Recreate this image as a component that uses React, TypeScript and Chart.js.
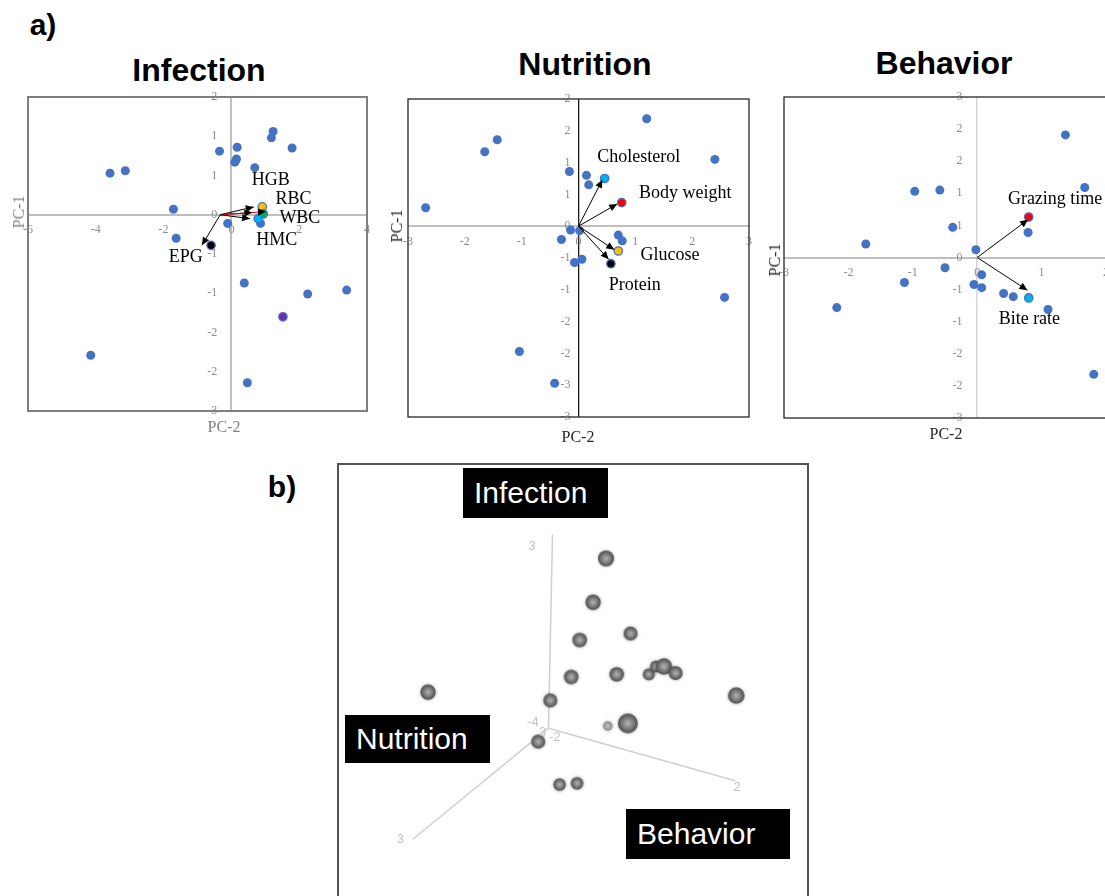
import React, { useEffect, useRef } from "react";
import { Chart, registerables } from "chart.js";

Chart.register(...registerables);

const SERIF = '"Liberation Serif", "Times New Roman", serif';
const SANS = '"Liberation Sans", Arial, sans-serif';
const BLUE = "#4472C4";

// ---------------- a) Infection PCA ----------------
const infectionPC2 = [1.23, 1.18, 1.79, -0.35, 0.17, 0.15, 0.1, 0.69, -3.58, -3.13, -1.71, -0.11, -1.63, 0.38, 2.25, 3.4, -4.15, 0.47, 0.86];
const infectionPC1 = [1.06, 0.98, 0.85, 0.81, 0.86, 0.71, 0.67, 0.6, 0.53, 0.56, 0.07, -0.11, -0.3, -0.87, -1.01, -0.96, -1.79, -2.14, -0.11];
const infectionHighlightPC2 = [0.91, 0.94, 0.79, -0.6, 1.52];
const infectionHighlightPC1 = [0.1, 0.01, -0.05, -0.39, -1.3];
const infectionHighlightColors = ["#FFC000", "#00B050", "#00B0F0", "#000000", "#7030A0"];
const infectionVariables = ["HGB", "RBC", "WBC", "HMC", "EPG"];
const infectionLoadingPC2 = [0.66, 1.02, 0.62, 0.55, -0.87];
const infectionLoadingPC1 = [0.1, 0.04, 0.03, -0.05, -0.39];
const infectionArrowColors = ["#000000", "#FF0000", "#000000", "#000000", "#000000"];
const infectionLabelPC2 = [1.16, 1.83, 2.02, 1.34, -1.35];
const infectionLabelPC1 = [0.44, 0.2, -0.05, -0.32, -0.54];

// ---------------- a) Nutrition PCA ----------------
const nutritionPC2 = [1.2, -1.43, -1.65, 2.4, -0.16, 0.14, 0.18, -2.69, -0.14, 0.02, -0.3, 0.7, 0.77, 0.06, -0.07, 2.57, -1.04, -0.42];
const nutritionPC1 = [1.69, 1.36, 1.17, 1.05, 0.86, 0.8, 0.65, 0.29, -0.06, -0.07, -0.21, -0.14, -0.23, -0.52, -0.57, -1.12, -1.97, -2.47];
const nutritionHighlightPC2 = [0.46, 0.76, 0.7, 0.57];
const nutritionHighlightPC1 = [0.75, 0.37, -0.39, -0.59];
const nutritionHighlightColors = ["#00B0F0", "#FF0000", "#FFC000", "#000000"];
const nutritionVariables = ["Cholesterol", "Body weight", "Glucose", "Protein"];
const nutritionLoadingPC2 = [0.42, 0.68, 0.63, 0.53];
const nutritionLoadingPC1 = [0.73, 0.35, -0.37, -0.52];
const nutritionArrowColors = ["#000000", "#000000", "#000000", "#000000"];
const nutritionLabelPC2 = [1.06, 1.88, 1.61, 0.99];
const nutritionLabelPC1 = [1.09, 0.51, -0.45, -0.93];

// ---------------- a) Behavior PCA ----------------
const behaviorPC2 = [1.37, 1.67, -0.97, -0.58, -0.38, 0.79, -1.73, -0.02, -0.5, 0.07, -1.13, -0.05, 0.07, 0.41, 0.56, 1.1, -2.18, 1.81];
const behaviorPC1 = [1.91, 1.09, 1.03, 1.05, 0.47, 0.39, 0.21, 0.12, -0.16, -0.27, -0.39, -0.42, -0.47, -0.56, -0.61, -0.81, -0.78, -1.82];
const behaviorHighlightPC2 = [0.8, 0.8];
const behaviorHighlightPC1 = [0.63, -0.63];
const behaviorHighlightColors = ["#FF0000", "#00B0F0"];
const behaviorVariables = ["Grazing time", "Bite rate"];
const behaviorLoadingPC2 = [0.79, 0.78];
const behaviorLoadingPC1 = [0.59, -0.51];
const behaviorArrowColors = ["#000000", "#000000"];
const behaviorLabelPC2 = [1.21, 0.81];
const behaviorLabelPC1 = [0.91, -0.96];

// ---------------- b) 3D projection (projected plane coordinates, 0-100) ----------------
const spherePlaneX = [57.4, 54.5, 51.5, 62.9, 49.6, 59.8, 67.0, 68.6, 70.4, 73.0, 86.6, 17.5, 44.9, 62.3, 57.8, 42.2, 47.0, 50.9];
const spherePlaneY = [81.0, 70.9, 62.2, 63.7, 53.7, 54.3, 54.3, 56.1, 56.1, 54.6, 49.4, 50.2, 48.3, 43.0, 42.4, 38.8, 28.9, 29.2];
const sphereDepth = [0.33, 0.23, 0.1, 0.0, 0.1, 0.1, -0.33, -0.33, 0.43, 0.0, 0.43, 0.23, 0.0, 1.0, -0.77, 0.0, -0.23, -0.23];
const axisOriginPlane = [44.5, 41.9];
const axisEndNames = ["Infection", "Behavior", "Nutrition"];
const axisEndPlaneX = [45.4, 86.4, 14.1];
const axisEndPlaneY = [86.5, 29.8, 16.3];
const axisTickText = ["3", "2", "3", "-4", "3", "-2"];
const axisTickPlaneX = [40.8, 86.8, 11.3, 41.0, 43.2, 45.9];
const axisTickPlaneY = [83.8, 28.3, 16.2, 43.2, 41.0, 39.8];

type PcaSpec = {
  pc2: number[]; pc1: number[];
  hiPc2: number[]; hiPc1: number[]; hiColors: string[];
  names: string[]; loadPc2: number[]; loadPc1: number[]; arrowColors: string[];
  labelPc2: number[]; labelPc1: number[];
  origin: [number, number];
  xMin: number; xMax: number; xStep: number;
  yMin: number; yMax: number; yStep: number;
  yAxisAt: number;
  zeroXColor: string; zeroXWidth: number;
  zeroYColor: string; zeroYWidth: number;
  frameColor: string; frameWidth: number;
  padding: { left: number; right: number; top: number; bottom: number };
};

const roundLabel = (v: number) => {
  const r = Math.sign(v) * Math.round(Math.abs(v));
  return r === 0 ? "0" : String(r);
};

const xy = (xs: number[], ys: number[]) => xs.map((x, i) => ({ x, y: ys[i] }));

function buildPcaConfig(s: PcaSpec): any {
  const decor = {
    id: "pcaDecor",
    afterDatasetsDraw(chart: any) {
      const { ctx, chartArea: a, scales } = chart;
      const sx = scales.x;
      const sy = scales.y;
      ctx.save();
      const x0 = sx.getPixelForValue(s.origin[0]);
      const y0 = sy.getPixelForValue(s.origin[1]);
      s.names.forEach((_n, i) => {
        const x1 = sx.getPixelForValue(s.loadPc2[i]);
        const y1 = sy.getPixelForValue(s.loadPc1[i]);
        const ang = Math.atan2(y1 - y0, x1 - x0);
        const L = 8;
        const W = 3.6;
        const c = Math.cos(ang);
        const sn = Math.sin(ang);
        ctx.beginPath();
        ctx.moveTo(x1, y1);
        ctx.lineTo(x1 - L * c + W * sn, y1 - L * sn - W * c);
        ctx.lineTo(x1 - L * c - W * sn, y1 - L * sn + W * c);
        ctx.closePath();
        ctx.fillStyle = "#000";
        ctx.fill();
      });
      ctx.font = `18px ${SERIF}`;
      ctx.fillStyle = "#000";
      ctx.textAlign = "center";
      ctx.textBaseline = "middle";
      s.names.forEach((n, i) => {
        ctx.fillText(n, sx.getPixelForValue(s.labelPc2[i]), sy.getPixelForValue(s.labelPc1[i]));
      });
      ctx.strokeStyle = s.frameColor;
      ctx.lineWidth = s.frameWidth;
      ctx.strokeRect(a.left, a.top, a.right - a.left, a.bottom - a.top);
      ctx.restore();
    },
  };

  const arrowSets = s.names.map((n, i) => ({
    label: n,
    data: [
      { x: s.origin[0], y: s.origin[1] },
      { x: s.loadPc2[i], y: s.loadPc1[i] },
    ],
    showLine: true,
    borderColor: s.arrowColors[i],
    borderWidth: 1,
    pointRadius: 0,
    order: 1,
  }));

  const tickFont = { family: SERIF, size: 12 };
  return {
    type: "scatter",
    data: {
      datasets: [
        {
          label: "highlight",
          data: xy(s.hiPc2, s.hiPc1),
          backgroundColor: s.hiColors,
          borderColor: BLUE,
          borderWidth: 1.3,
          pointRadius: 4.2,
          order: 0,
        },
        ...arrowSets,
        {
          label: "scores",
          data: xy(s.pc2, s.pc1),
          backgroundColor: BLUE,
          borderWidth: 0,
          pointRadius: 4.5,
          order: 2,
        },
      ],
    },
    options: {
      responsive: false,
      animation: false,
      layout: { padding: s.padding },
      plugins: { legend: { display: false }, tooltip: { enabled: false } },
      scales: {
        x: {
          type: "linear",
          position: { y: 0 },
          min: s.xMin,
          max: s.xMax,
          border: { display: false },
          grid: {
            drawTicks: false,
            color: (c: any) => (c.tick && c.tick.value === 0 ? s.zeroXColor : "rgba(0,0,0,0)"),
            lineWidth: (c: any) => (c.tick && c.tick.value === 0 ? s.zeroXWidth : 0),
          },
          ticks: {
            stepSize: s.xStep,
            autoSkip: false,
            maxRotation: 0,
            padding: 8,
            color: "#8c8c8c",
            font: tickFont,
            callback: (v: any) => roundLabel(Number(v)),
          },
        },
        y: {
          type: "linear",
          position: { x: s.yAxisAt },
          min: s.yMin,
          max: s.yMax,
          border: { display: false },
          grid: {
            drawTicks: false,
            color: (c: any) => (c.tick && c.tick.value === 0 ? s.zeroYColor : "rgba(0,0,0,0)"),
            lineWidth: (c: any) => (c.tick && c.tick.value === 0 ? s.zeroYWidth : 0),
          },
          ticks: {
            stepSize: s.yStep,
            autoSkip: false,
            color: "#8c8c8c",
            font: tickFont,
            callback: (v: any) => roundLabel(Number(v)),
          },
        },
      },
    },
    plugins: [decor],
  };
}

const infectionSpec: PcaSpec = {
  pc2: infectionPC2, pc1: infectionPC1,
  hiPc2: infectionHighlightPC2, hiPc1: infectionHighlightPC1, hiColors: infectionHighlightColors,
  names: infectionVariables, loadPc2: infectionLoadingPC2, loadPc1: infectionLoadingPC1, arrowColors: infectionArrowColors,
  labelPc2: infectionLabelPC2, labelPc1: infectionLabelPC1,
  origin: [-0.33, 0],
  xMin: -6, xMax: 4, xStep: 2, yMin: -2.5, yMax: 1.5, yStep: 0.5, yAxisAt: -0.42,
  zeroXColor: "#bfbfbf", zeroXWidth: 2, zeroYColor: "#bfbfbf", zeroYWidth: 2,
  frameColor: "#7f7f7f", frameWidth: 2,
  padding: { left: 28, right: 13, top: 12, bottom: 29 },
};

const nutritionSpec: PcaSpec = {
  pc2: nutritionPC2, pc1: nutritionPC1,
  hiPc2: nutritionHighlightPC2, hiPc1: nutritionHighlightPC1, hiColors: nutritionHighlightColors,
  names: nutritionVariables, loadPc2: nutritionLoadingPC2, loadPc1: nutritionLoadingPC1, arrowColors: nutritionArrowColors,
  labelPc2: nutritionLabelPC2, labelPc1: nutritionLabelPC1,
  origin: [0, 0],
  xMin: -3, xMax: 3, xStep: 1, yMin: -3, yMax: 2, yStep: 0.5, yAxisAt: -0.14,
  zeroXColor: "#1a1a1a", zeroXWidth: 1.3, zeroYColor: "#bfbfbf", zeroYWidth: 2,
  frameColor: "#262626", frameWidth: 1.3,
  padding: { left: 13, right: 16, top: 11, bottom: 16 },
};

const behaviorSpec: PcaSpec = {
  pc2: behaviorPC2, pc1: behaviorPC1,
  hiPc2: behaviorHighlightPC2, hiPc1: behaviorHighlightPC1, hiColors: behaviorHighlightColors,
  names: behaviorVariables, loadPc2: behaviorLoadingPC2, loadPc1: behaviorLoadingPC1, arrowColors: behaviorArrowColors,
  labelPc2: behaviorLabelPC2, labelPc1: behaviorLabelPC1,
  origin: [0, 0],
  xMin: -3, xMax: 2, xStep: 1, yMin: -2.5, yMax: 2.5, yStep: 0.5, yAxisAt: -0.23,
  zeroXColor: "#d4d4d4", zeroXWidth: 1.5, zeroYColor: "#bfbfbf", zeroYWidth: 2,
  frameColor: "#262626", frameWidth: 1.3,
  padding: { left: 14, right: 14, top: 12, bottom: 17 },
};

function PcaChart(props: { spec: PcaSpec; left: number; top: number; width: number; height: number }) {
  const ref = useRef<HTMLCanvasElement | null>(null);
  useEffect(() => {
    const chart = new Chart(ref.current as HTMLCanvasElement, buildPcaConfig(props.spec));
    return () => chart.destroy();
  }, []);
  return (
    <canvas
      ref={ref}
      width={props.width}
      height={props.height}
      style={{ position: "absolute", left: props.left, top: props.top, width: props.width, height: props.height }}
    />
  );
}

function sphereImage(r: number, depth: number): HTMLCanvasElement {
  const pad = 3;
  const size = Math.ceil((r + pad) * 2);
  const c = document.createElement("canvas");
  c.width = size;
  c.height = size;
  const g = c.getContext("2d") as CanvasRenderingContext2D;
  const m = size / 2;
  const halo = g.createRadialGradient(m, m, r * 0.8, m, m, r + pad);
  halo.addColorStop(0, "rgba(0,0,0,0.16)");
  halo.addColorStop(1, "rgba(0,0,0,0)");
  g.fillStyle = halo;
  g.fillRect(0, 0, size, size);
  const far = depth < -0.5;
  const grad = g.createRadialGradient(m, m, 0, m, m, r);
  grad.addColorStop(0, far ? "#c4c4c4" : "#b4b4b4");
  grad.addColorStop(0.45, far ? "#a8a8a8" : "#878787");
  grad.addColorStop(1, far ? "#8c8c8c" : "#4e4e4e");
  g.beginPath();
  g.arc(m, m, r, 0, Math.PI * 2);
  g.fillStyle = grad;
  g.fill();
  return c;
}

function ThreeDChart() {
  const ref = useRef<HTMLCanvasElement | null>(null);
  useEffect(() => {
    const radii = sphereDepth.map((d) => 7 + 3 * d);
    const images = radii.map((r, i) => sphereImage(r, sphereDepth[i]));
    const labels = {
      id: "axisText",
      afterDatasetsDraw(chart: any) {
        const { ctx, scales } = chart;
        ctx.save();
        ctx.font = `13px ${SANS}`;
        ctx.fillStyle = "#c2c2c2";
        ctx.textAlign = "center";
        ctx.textBaseline = "middle";
        axisTickText.forEach((t, i) => {
          ctx.fillText(t, scales.x.getPixelForValue(axisTickPlaneX[i]), scales.y.getPixelForValue(axisTickPlaneY[i]));
        });
        ctx.restore();
      },
    };
    const axisSets = axisEndNames.map((n, i) => ({
      label: n,
      data: [
        { x: axisOriginPlane[0], y: axisOriginPlane[1] },
        { x: axisEndPlaneX[i], y: axisEndPlaneY[i] },
      ],
      showLine: true,
      borderColor: "#cfcfcf",
      borderWidth: 1.5,
      pointRadius: 0,
      order: 1,
    }));
    const chart = new Chart(ref.current as HTMLCanvasElement, {
      type: "scatter",
      data: {
        datasets: [
          {
            label: "animals",
            data: xy(spherePlaneX, spherePlaneY),
            pointRadius: (c: any) => radii[c.dataIndex] ?? 7,
            pointStyle: (c: any) => images[c.dataIndex] ?? "circle",
            order: 0,
          } as any,
          ...axisSets,
        ],
      },
      options: {
        responsive: false,
        animation: false,
        layout: { padding: 0 },
        plugins: { legend: { display: false }, tooltip: { enabled: false } },
        scales: {
          x: { type: "linear", display: false, min: 0, max: 100 },
          y: { type: "linear", display: false, min: 0, max: 100 },
        },
      },
      plugins: [labels],
    } as any);
    return () => chart.destroy();
  }, []);
  return (
    <canvas
      ref={ref}
      width={468}
      height={456}
      style={{ position: "absolute", left: 339, top: 465, width: 468, height: 456 }}
    />
  );
}

function Text(props: {
  x: number; y: number; text: string; size: number; weight?: string; color?: string; family?: string; rotate?: number;
}) {
  return (
    <div
      style={{
        position: "absolute",
        left: props.x,
        top: props.y,
        transform: `translate(-50%, -50%)${props.rotate ? ` rotate(${props.rotate}deg)` : ""}`,
        fontFamily: props.family || SANS,
        fontSize: props.size,
        fontWeight: (props.weight || "normal") as any,
        color: props.color || "#000",
        lineHeight: 1,
        whiteSpace: "nowrap",
      }}
    >
      {props.text}
    </div>
  );
}

function BlackTag(props: { left: number; top: number; width: number; height: number; text: string }) {
  return (
    <div
      style={{
        position: "absolute",
        left: props.left,
        top: props.top,
        width: props.width,
        height: props.height,
        background: "#000",
        color: "#fff",
        fontFamily: SANS,
        fontSize: 30,
        display: "flex",
        alignItems: "center",
        paddingLeft: 11,
        boxSizing: "border-box",
        lineHeight: 1,
      }}
    >
      {props.text}
    </div>
  );
}

export default function App() {
  return (
    <div style={{ position: "fixed", left: 0, top: 0, width: 1105, height: 896, overflow: "hidden", background: "#fff" }}>
      <Text x={43} y={25} text="a)" size={30} weight="bold" />
      <Text x={199} y={70} text="Infection" size={32} weight="bold" />
      <Text x={585} y={64} text="Nutrition" size={32} weight="bold" />
      <Text x={944} y={63} text="Behavior" size={32} weight="bold" />

      <PcaChart spec={infectionSpec} left={0} top={85} width={380} height={355} />
      <PcaChart spec={nutritionSpec} left={395} top={88} width={370} height={345} />
      <PcaChart spec={behaviorSpec} left={770} top={85} width={350} height={350} />

      <Text x={224} y={427} text="PC-2" size={16} family={SERIF} color="#808080" />
      <Text x={19} y={212} text="PC-1" size={16} family={SERIF} color="#808080" rotate={-90} />
      <Text x={578} y={437} text="PC-2" size={16} family={SERIF} color="#262626" />
      <Text x={397} y={226} text="PC-1" size={16} family={SERIF} color="#262626" rotate={-90} />
      <Text x={946} y={434} text="PC-2" size={16} family={SERIF} color="#262626" />
      <Text x={775} y={260} text="PC-1" size={16} family={SERIF} color="#262626" rotate={-90} />

      <Text x={282} y={487} text="b)" size={30} weight="bold" />
      <div
        style={{
          position: "absolute",
          left: 337,
          top: 463,
          width: 472,
          height: 470,
          border: "2px solid #555",
          boxSizing: "border-box",
        }}
      />
      <ThreeDChart />
      <BlackTag left={463} top={468} width={145} height={50} text="Infection" />
      <BlackTag left={345} top={715} width={145} height={48} text="Nutrition" />
      <BlackTag left={626} top={809} width={164} height={50} text="Behavior" />
    </div>
  );
}
